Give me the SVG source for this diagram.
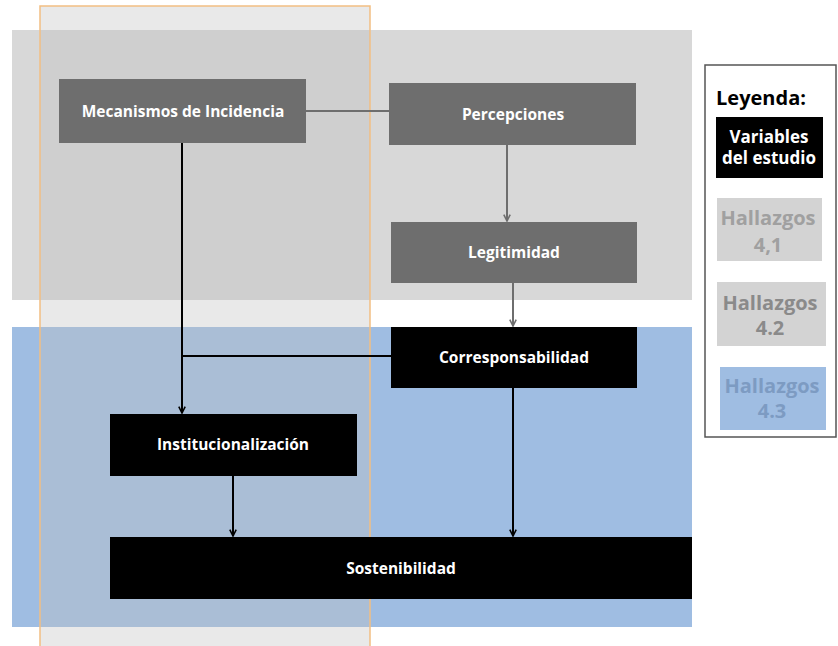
<svg xmlns="http://www.w3.org/2000/svg" width="838" height="646" viewBox="0 0 838 646">
  <style>
    .lbl { font-family: "Open Sans", "DejaVu Sans", sans-serif; font-weight: bold; text-anchor: middle; }
    .node-text { font-size: 15.5px; fill: #ffffff; }
    .legend-var { font-size: 17px; fill: #ffffff; }
    .legend-find { font-size: 20px; }
    .dark { fill: #000000; }
    .grey { fill: #6e6e6e; }
    .wire { fill: none; stroke-width: 2; }
    .wire-dark { stroke: #000000; }
    .wire-grey { stroke: #6e6e6e; }
  </style>
  <defs>
    <marker id="arrow-dark" viewBox="0 0 10 10" refX="9" refY="5" markerWidth="8" markerHeight="8" orient="auto" markerUnits="userSpaceOnUse">
      <path d="M1,1 L9,5 L1,9" fill="none" stroke="#000000" stroke-width="2"/>
    </marker>
    <marker id="arrow-grey" viewBox="0 0 10 10" refX="9" refY="5" markerWidth="8" markerHeight="8" orient="auto" markerUnits="userSpaceOnUse">
      <path d="M1,1 L9,5 L1,9" fill="none" stroke="#6e6e6e" stroke-width="2"/>
    </marker>
  </defs>

  <rect width="838" height="646" fill="#ffffff"/>

  <!-- background bands -->
  <g id="bands">
    <rect x="12" y="30" width="680" height="270" fill="#d8d8d8"/>
    <rect x="12" y="327" width="680" height="300" fill="#9fbde2"/>
    <rect x="40" y="6" width="330" height="645" fill="#c0c0c0" fill-opacity="0.35" stroke="#f2be82" stroke-width="1.5"/>
  </g>

  <!-- connectors -->
  <g id="connectors">
    <line class="wire wire-grey" x1="306" y1="111" x2="389" y2="111"/>
    <line class="wire wire-grey" x1="507" y1="145" x2="507" y2="221" marker-end="url(#arrow-grey)"/>
    <line class="wire wire-grey" x1="513" y1="283" x2="513" y2="326" marker-end="url(#arrow-grey)"/>
    <line class="wire wire-dark" x1="182" y1="143" x2="182" y2="413" marker-end="url(#arrow-dark)"/>
    <line class="wire wire-dark" x1="391" y1="356" x2="182" y2="356"/>
    <line class="wire wire-dark" x1="233" y1="476" x2="233" y2="536" marker-end="url(#arrow-dark)"/>
    <line class="wire wire-dark" x1="513" y1="388" x2="513" y2="536" marker-end="url(#arrow-dark)"/>
  </g>

  <!-- nodes -->
  <g id="mecanismos">
    <rect class="grey" x="59" y="79" width="247" height="64"/>
    <text class="lbl node-text" x="183" y="117">Mecanismos de Incidencia</text>
  </g>
  <g id="percepciones">
    <rect class="grey" x="389" y="83" width="247" height="62"/>
    <text class="lbl node-text" x="513" y="120">Percepciones</text>
  </g>
  <g id="legitimidad">
    <rect class="grey" x="391" y="222" width="246" height="61"/>
    <text class="lbl node-text" x="514" y="258">Legitimidad</text>
  </g>
  <g id="corresponsabilidad">
    <rect class="dark" x="391" y="327" width="246" height="61"/>
    <text class="lbl node-text" x="514" y="363">Corresponsabilidad</text>
  </g>
  <g id="institucionalizacion">
    <rect class="dark" x="110" y="414" width="247" height="62"/>
    <text class="lbl node-text" x="233" y="450">Institucionalización</text>
  </g>
  <g id="sostenibilidad">
    <rect class="dark" x="110" y="537" width="582" height="62"/>
    <text class="lbl node-text" x="401" y="574">Sostenibilidad</text>
  </g>

  <!-- legend -->
  <g id="legend">
    <rect x="705" y="65" width="131" height="372" fill="#ffffff" stroke="#555555" stroke-width="1.5"/>
    <text class="lbl" x="761" y="105" font-size="20" fill="#000000">Leyenda:</text>
    <rect x="716" y="117" width="107" height="61" fill="#000000"/>
    <text class="lbl legend-var" x="769" y="143">Variables</text>
    <text class="lbl legend-var" x="769" y="164">del estudio</text>
    <rect x="717" y="198" width="105" height="63" fill="#d3d3d3"/>
    <text class="lbl legend-find" x="768" y="225" fill="#a0a0a0">Hallazgos</text>
    <text class="lbl legend-find" x="768" y="252" fill="#a0a0a0">4,1</text>
    <rect x="717" y="282" width="109" height="64" fill="#d3d3d3"/>
    <text class="lbl legend-find" x="770" y="310" fill="#8a8a8a">Hallazgos</text>
    <text class="lbl legend-find" x="770" y="335" fill="#8a8a8a">4.2</text>
    <rect x="720" y="367" width="106" height="63" fill="#9fbde2"/>
    <text class="lbl legend-find" x="772" y="393" fill="#7d9bc2">Hallazgos</text>
    <text class="lbl legend-find" x="772" y="418" fill="#7d9bc2">4.3</text>
  </g>
</svg>
